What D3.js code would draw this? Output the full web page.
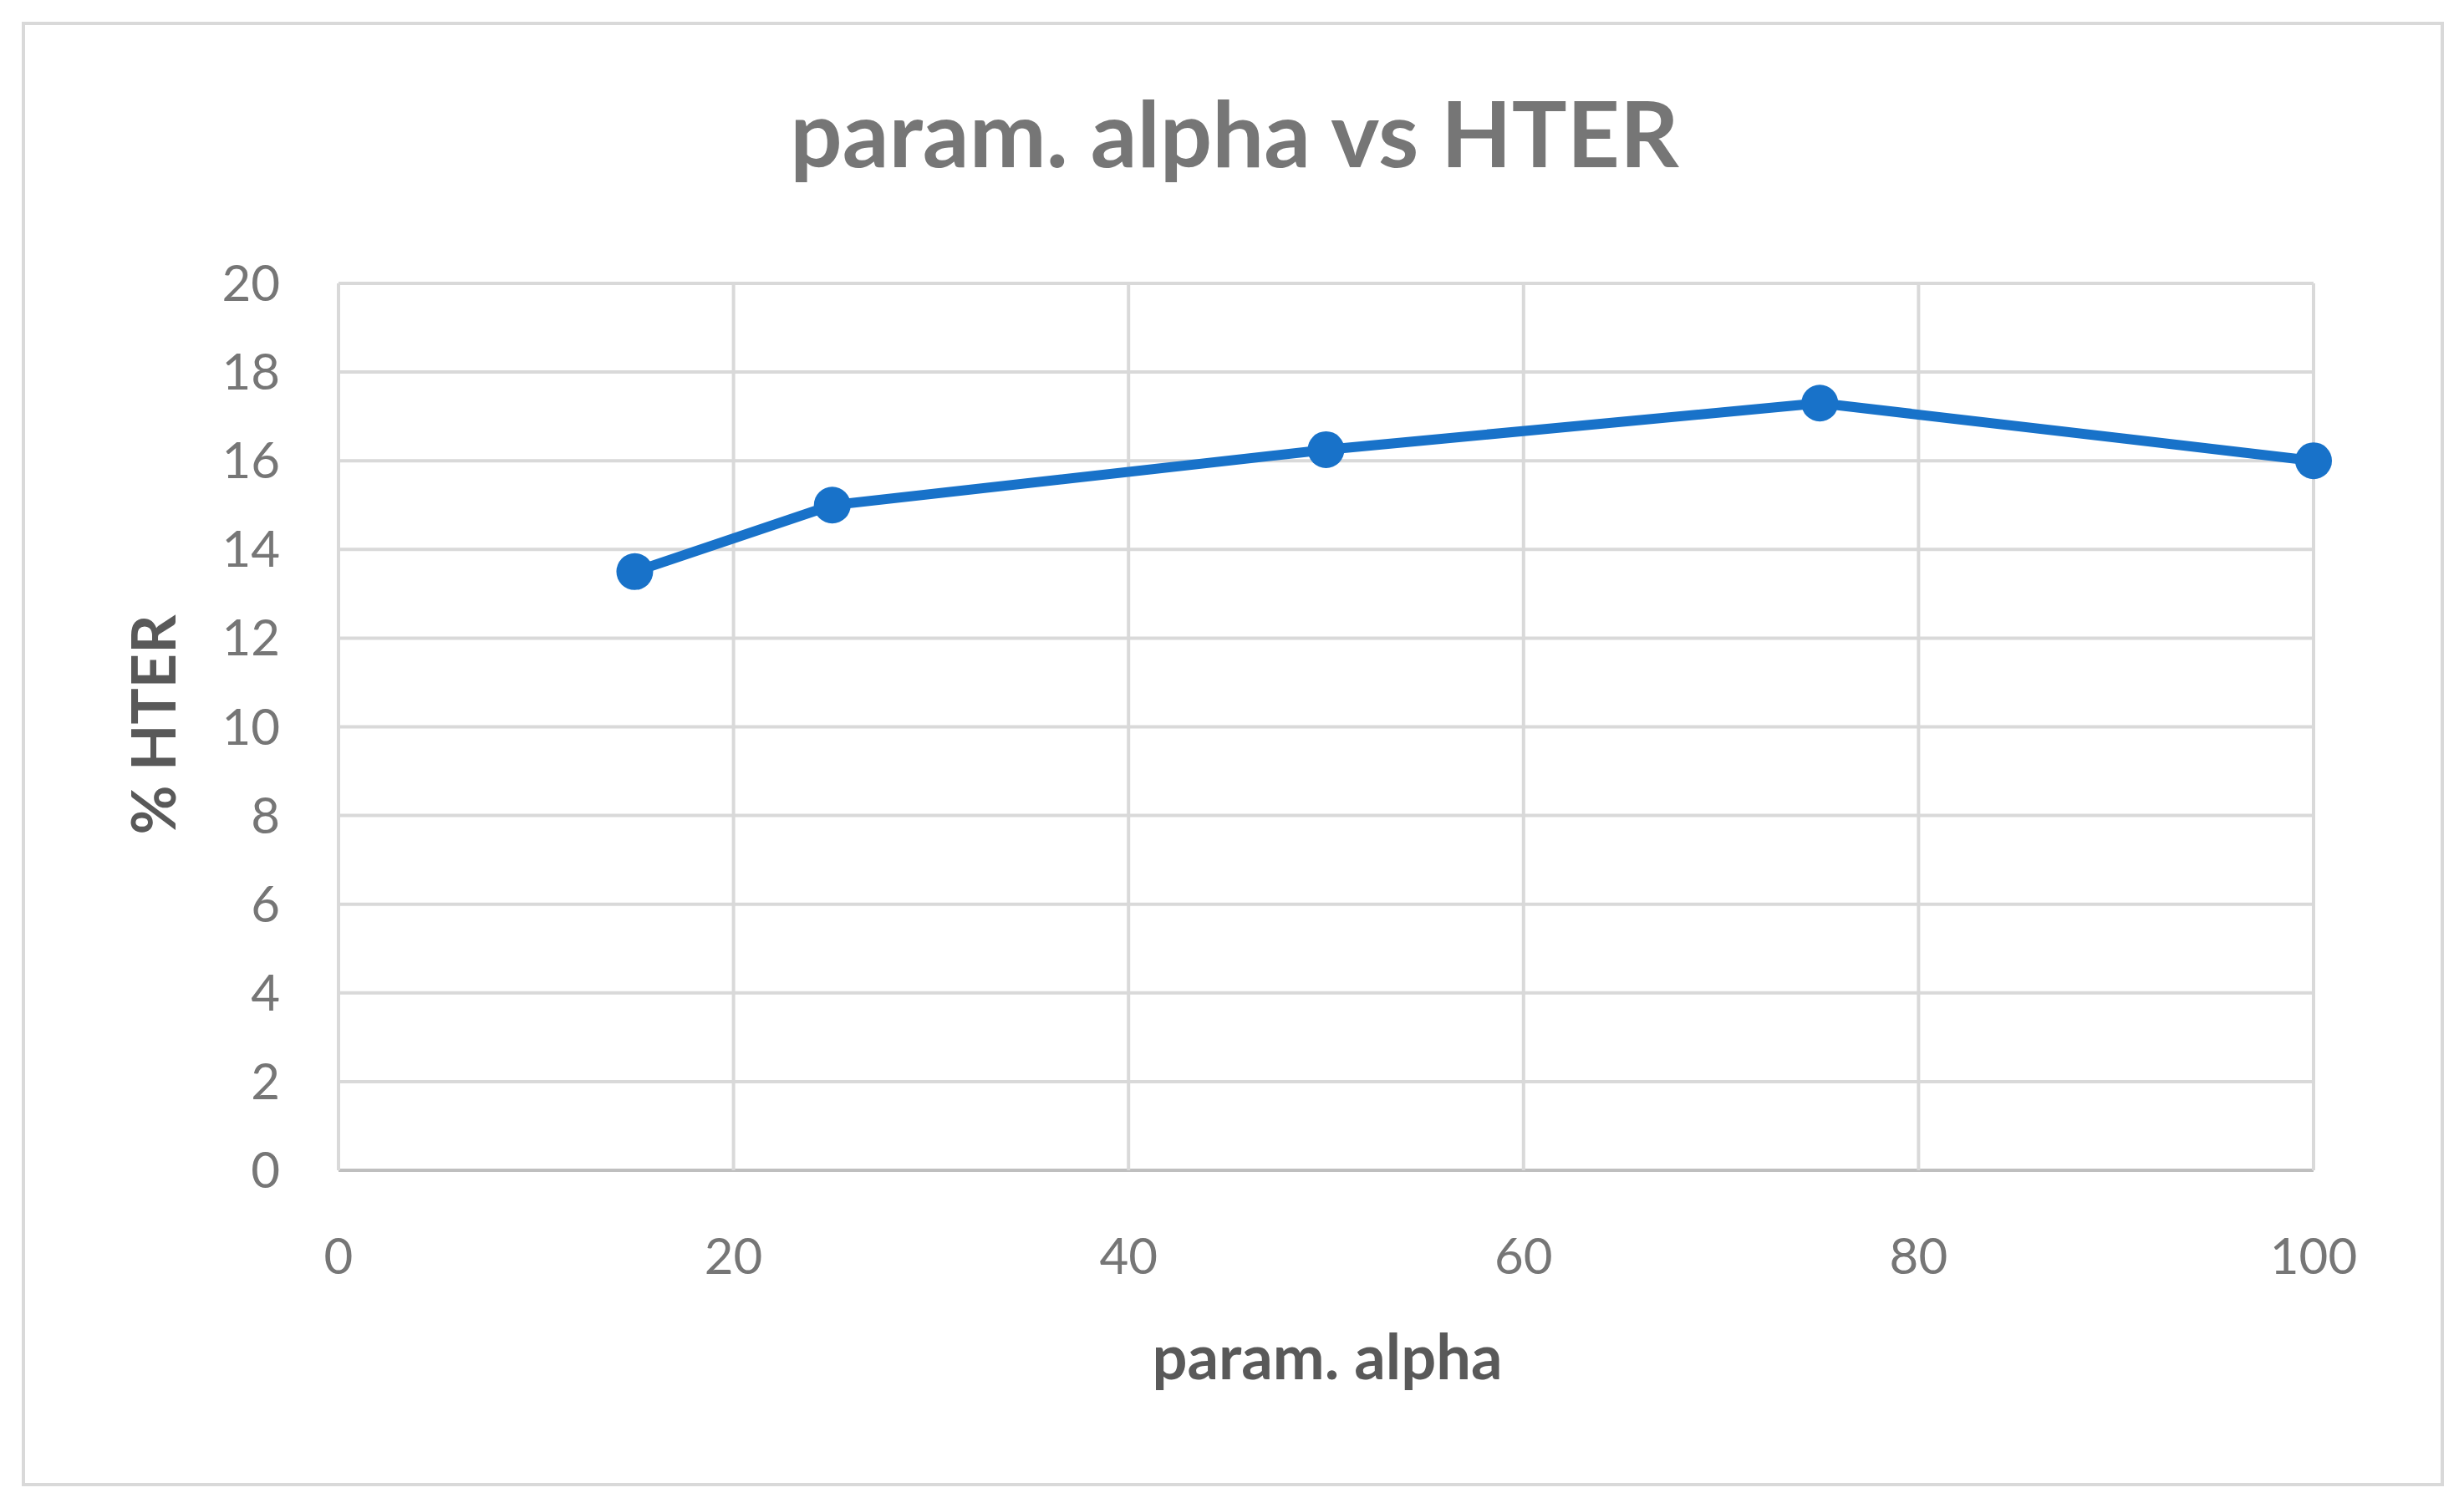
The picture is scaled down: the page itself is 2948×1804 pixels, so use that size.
<!DOCTYPE html>
<html><head><meta charset="utf-8">
<script src="https://cdn.jsdelivr.net/npm/d3@7"></script>
<style>body{margin:0;background:#fff}text{font-family:Lato,"Open Sans",sans-serif}</style>
</head><body><svg id="chart" width="2948" height="1804"></svg>
<script>
const alphaValues = [15, 25, 50, 75, 100];
const hterValues = [13.5, 15, 16.25, 17.3, 16];
const xTicks = [0, 20, 40, 60, 80, 100];
const yTicks = [0, 2, 4, 6, 8, 10, 12, 14, 16, 18, 20];

const svg = d3.select("#chart");
const margin = { left: 405, right: 2948 - 2768, top: 339, bottom: 1804 - 1400 };
const width = 2948 - margin.left - margin.right;
const height = 1804 - margin.top - margin.bottom;

svg.append("rect").attr("x", 28).attr("y", 28).attr("width", 2894).attr("height", 1748)
  .attr("fill", "#fff").attr("stroke", "#d9d9d9").attr("stroke-width", 4);

const chart = svg.append("g").attr("transform", "translate(" + margin.left + "," + margin.top + ")");
const xScale = d3.scaleLinear().domain([0, 100]).range([0, width]);
const yScale = d3.scaleLinear().domain([0, 20]).range([height, 0]);

chart.selectAll(".hgrid").data(yTicks).join("line").attr("class", "hgrid")
  .attr("x1", 0).attr("x2", width).attr("y1", d => yScale(d)).attr("y2", d => yScale(d))
  .attr("stroke", d => d === 0 ? "#bfbfbf" : "#d9d9d9").attr("stroke-width", 4);
chart.selectAll(".vgrid").data(xTicks).join("line").attr("class", "vgrid")
  .attr("y1", 0).attr("y2", height).attr("x1", d => xScale(d)).attr("x2", d => xScale(d))
  .attr("stroke", "#d9d9d9").attr("stroke-width", 4);

chart.selectAll(".ylab").data(yTicks).join("text").attr("class", "ylab")
  .attr("x", -70).attr("y", d => yScale(d)).attr("dy", "0.35em").attr("text-anchor", "end")
  .attr("font-size", 60).attr("fill", "#767676").text(d => d);
chart.selectAll(".xlab").data(xTicks).join("text").attr("class", "xlab")
  .attr("x", d => xScale(d)).attr("y", height + 124).attr("text-anchor", "middle")
  .attr("font-size", 60).attr("fill", "#767676").text(d => d);

const pts = alphaValues.map((a, i) => [a, hterValues[i]]);
chart.append("path").datum(pts)
  .attr("d", d3.line().x(d => xScale(d[0])).y(d => yScale(d[1])))
  .attr("fill", "none").attr("stroke", "#1872c9").attr("stroke-width", 12).attr("stroke-linejoin", "round");
chart.selectAll(".pt").data(pts).join("circle").attr("class", "pt")
  .attr("cx", d => xScale(d[0])).attr("cy", d => yScale(d[1])).attr("r", 22)
  .attr("fill", "#1872c9");

svg.append("text").attr("x", 1477).attr("y", 200).attr("text-anchor", "middle")
  .attr("font-size", 110).attr("font-weight", "bold").attr("fill", "#767676").text("param. alpha vs HTER");
svg.append("text").attr("x", 1588).attr("y", 1650).attr("text-anchor", "middle")
  .attr("font-size", 74).attr("font-weight", "bold").attr("fill", "#595959").text("param. alpha");
svg.append("text").attr("transform", "translate(210,867) rotate(-90)").attr("text-anchor", "middle")
  .attr("font-size", 72).attr("font-weight", "bold").attr("fill", "#595959").text("% HTER");
</script></body></html>
